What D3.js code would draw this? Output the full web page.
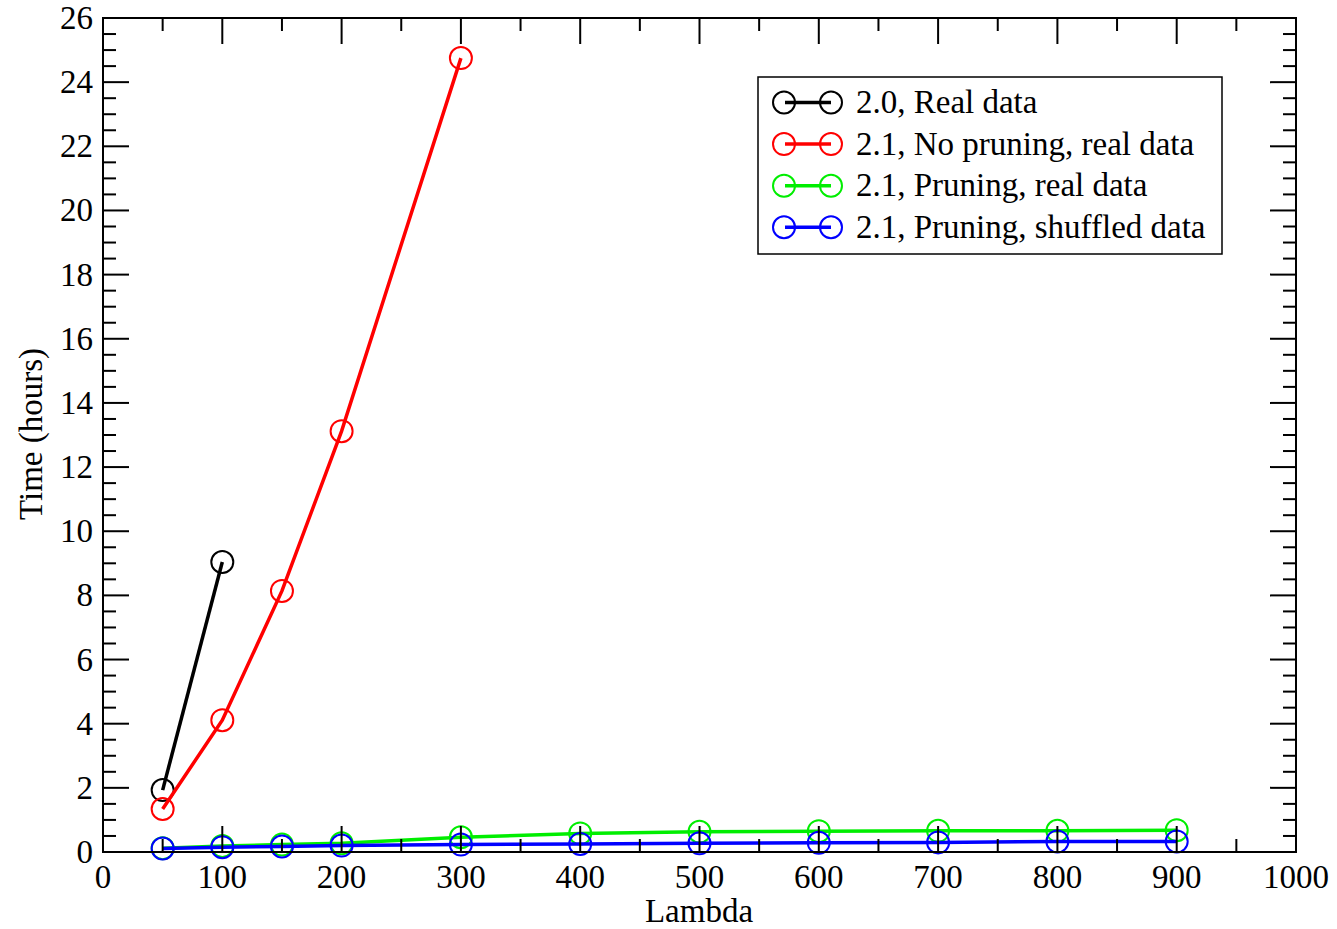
<!DOCTYPE html>
<html><head><meta charset="utf-8">
<script src="https://cdn.jsdelivr.net/npm/d3@7"></script>
<style>body{margin:0;background:#fff}svg{display:block}text{font-family:"Liberation Serif","Times New Roman",serif;fill:#000}</style>
</head><body><svg id="c" width="1337" height="929"></svg>
<script>
const xTicks=[0,100,200,300,400,500,600,700,800,900,1000];
const yTicks=[0,2,4,6,8,10,12,14,16,18,20,22,24,26];
const seriesNames=["2.0, Real data","2.1, No pruning, real data","2.1, Pruning, real data","2.1, Pruning, shuffled data"];
const seriesColors=["#000000","#ff0000","#00ee00","#0000ff"];
const lambdaBlack=[50,100];
const timeBlack=[1.93,9.04];
const lambdaRed=[50,100,150,200,300];
const timeRed=[1.34,4.11,8.14,13.12,24.75];
const lambdaGreen=[50,100,150,200,300,400,500,600,700,800,900];
const timeGreen=[0.12,0.19,0.23,0.27,0.46,0.58,0.63,0.65,0.66,0.66,0.68];
const lambdaBlue=[50,100,150,200,300,400,500,600,700,800,900];
const timeBlue=[0.11,0.15,0.17,0.2,0.23,0.25,0.27,0.29,0.3,0.33,0.33];

const series=[[lambdaBlack,timeBlack],[lambdaRed,timeRed],[lambdaGreen,timeGreen],[lambdaBlue,timeBlue]];
const svg=d3.select("#c");
const L=103,R=1296,T=18,B=852;
const FS=33;
const x=d3.scaleLinear().domain([0,1000]).range([L,R]);
const y=d3.scaleLinear().domain([0,26]).range([B,T]);

const line=d3.line().x(d=>x(d[0])).y(d=>y(d[1]));
series.forEach((s,i)=>{
  const pts=s[0].map((v,j)=>[v,s[1][j]]);
  const g=svg.append("g");
  g.append("path").attr("d",line(pts)).attr("fill","none").attr("stroke",seriesColors[i]).attr("stroke-width",3.5);
  g.selectAll("circle").data(pts).enter().append("circle")
   .attr("cx",d=>x(d[0])).attr("cy",d=>y(d[1])).attr("r",11)
   .attr("fill","none").attr("stroke",seriesColors[i]).attr("stroke-width",2);
});

const major=26, minor=13;
const xMinor=d3.range(50,1000,100);
const yMinor=d3.range(0,26,0.5).filter(v=>v%2!==0);
const ax=svg.append("g").attr("stroke","#000").attr("stroke-width",2);
xTicks.forEach(v=>{
  ax.append("line").attr("x1",x(v)).attr("x2",x(v)).attr("y1",B).attr("y2",B-major);
  ax.append("line").attr("x1",x(v)).attr("x2",x(v)).attr("y1",T).attr("y2",T+major);
});
xMinor.forEach(v=>{
  ax.append("line").attr("x1",x(v)).attr("x2",x(v)).attr("y1",B).attr("y2",B-minor);
  ax.append("line").attr("x1",x(v)).attr("x2",x(v)).attr("y1",T).attr("y2",T+minor);
});
yTicks.forEach(v=>{
  ax.append("line").attr("y1",y(v)).attr("y2",y(v)).attr("x1",L).attr("x2",L+major);
  ax.append("line").attr("y1",y(v)).attr("y2",y(v)).attr("x1",R).attr("x2",R-major);
});
yMinor.forEach(v=>{
  ax.append("line").attr("y1",y(v)).attr("y2",y(v)).attr("x1",L).attr("x2",L+minor);
  ax.append("line").attr("y1",y(v)).attr("y2",y(v)).attr("x1",R).attr("x2",R-minor);
});
svg.append("rect").attr("x",L).attr("y",T).attr("width",R-L).attr("height",B-T)
  .attr("fill","none").attr("stroke","#000").attr("stroke-width",2);

svg.selectAll(".xl").data(xTicks).enter().append("text")
  .attr("x",d=>x(d)).attr("y",888).attr("text-anchor","middle").attr("font-size",FS).text(d=>d);
svg.selectAll(".yl").data(yTicks).enter().append("text")
  .attr("x",93).attr("y",d=>y(d)+11).attr("text-anchor","end").attr("font-size",FS).text(d=>d);

svg.append("text").attr("x",699).attr("y",922).attr("text-anchor","middle").attr("font-size",FS).text("Lambda");
svg.append("text").attr("transform","translate(42,434) rotate(-90)").attr("text-anchor","middle").attr("font-size",FS).text("Time (hours)");

const lg=svg.append("g");
lg.append("rect").attr("x",758).attr("y",77).attr("width",464).attr("height",177)
  .attr("fill","#fff").attr("stroke","#000").attr("stroke-width",1.5);
seriesNames.forEach((n,i)=>{
  const cy=102.5+i*41.6;
  lg.append("line").attr("x1",785).attr("x2",831).attr("y1",cy).attr("y2",cy).attr("stroke",seriesColors[i]).attr("stroke-width",3.5);
  [784,831].forEach(cx=>lg.append("circle").attr("cx",cx).attr("cy",cy).attr("r",11).attr("fill","none").attr("stroke",seriesColors[i]).attr("stroke-width",2));
  lg.append("text").attr("x",856).attr("y",cy+10.5).attr("font-size",FS).text(n);
});
</script></body></html>
